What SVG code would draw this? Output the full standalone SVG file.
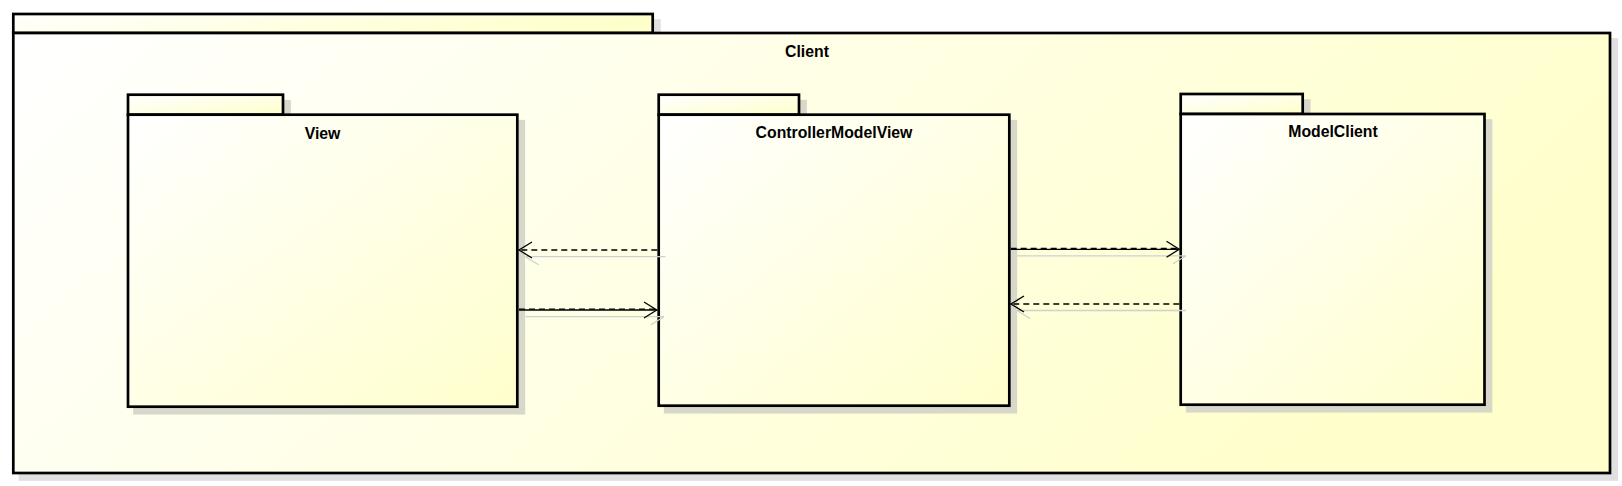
<svg xmlns="http://www.w3.org/2000/svg" width="1622" height="486" viewBox="0 0 1622 486">
  <defs>
    <linearGradient id="g" x1="0" y1="0" x2="1" y2="1">
      <stop offset="0" stop-color="#ffffff"/>
      <stop offset="1" stop-color="#ffffcc"/>
    </linearGradient>
    <linearGradient id="go" x1="0" y1="0" x2="1" y2="0.3">
      <stop offset="0" stop-color="#ffffff"/>
      <stop offset="1" stop-color="#ffffcc"/>
    </linearGradient>
    <style>
      .box { stroke: #000; stroke-width: 2.7; fill: url(#g); }
      .obox { stroke: #000; stroke-width: 2.7; fill: url(#go); }
      .sh { fill: #d8d8ca; stroke: #d8d8ca; stroke-width: 2.7; }
      .osh { fill: #e0e0e0; stroke: #e0e0e0; stroke-width: 2.7; }
      .lbl { font-family: "Liberation Sans", Arial, sans-serif; font-weight: bold; font-size: 15.8px; text-anchor: middle; fill: #000; }
      .ln { stroke: #000; stroke-width: 1.3; fill: none; }
      .dash { stroke-dasharray: 6 4; }
      .lsh { stroke: #cfcfcf; stroke-width: 1.3; fill: none; }
    </style>
  </defs>
  <rect width="1622" height="486" fill="#ffffff"/>

  <g id="Client">
    <rect class="osh" x="20" y="20.5" width="639.4" height="19"/>
    <rect class="osh" x="20" y="39.5" width="1596.7" height="440"/>
    <rect class="obox" x="13.3" y="14" width="639.4" height="19"/>
    <rect class="obox" x="13.3" y="33" width="1596.7" height="440"/>
    <text class="lbl" x="807" y="56.7">Client</text>
  </g>

  <g id="View">
    <rect class="sh" x="134.5" y="101.2" width="155" height="20"/>
    <rect class="sh" x="134.5" y="121.2" width="389.3" height="292"/>
    <rect class="box" x="128" y="94.7" width="155" height="20"/>
    <rect class="box" x="128" y="114.7" width="389.3" height="292"/>
    <text class="lbl" x="322.5" y="139.3">View</text>
  </g>

  <g id="ControllerModelView">
    <rect class="sh" x="665.2" y="101.2" width="140.3" height="20"/>
    <rect class="sh" x="665.2" y="121.2" width="350.6" height="291"/>
    <rect class="box" x="658.7" y="94.7" width="140.3" height="20"/>
    <rect class="box" x="658.7" y="114.7" width="350.6" height="291"/>
    <text class="lbl" x="834" y="138.3">ControllerModelView</text>
  </g>

  <g id="ModelClient">
    <rect class="sh" x="1187.2" y="100.5" width="122" height="20"/>
    <rect class="sh" x="1187.2" y="120.5" width="303.8" height="290.7"/>
    <rect class="box" x="1180.7" y="94" width="122" height="20"/>
    <rect class="box" x="1180.7" y="114" width="303.8" height="290.7"/>
    <text class="lbl" x="1333" y="137.3">ModelClient</text>
  </g>

  <g id="connectors">
    <!-- shadows -->
    <path class="lsh" d="M665.5,256.7 H525.5 M525.5,256.7 L538.5,264.7"/>
    <path class="lsh" d="M525.5,316.7 H664 M664,316.7 L651,324.7"/>
    <path class="lsh" d="M1017,255.8 H1186 M1186,255.8 L1173,263.8"/>
    <path class="lsh" d="M1186,310.5 H1017 M1017,310.5 L1030,318.5"/>
    <!-- ControllerModelView -> View (dashed) -->
    <path class="ln dash" d="M657.3,250 H520"/>
    <path class="ln" d="M532,242 L519,250 L532,258"/>
    <!-- View -> ControllerModelView -->
    <path class="ln" d="M519,310 H656.8"/>
    <path class="ln dash" d="M519,309.2 H655"/>
    <path class="ln" d="M644,302 L656.8,310 L644,318"/>
    <!-- ControllerModelView -> ModelClient -->
    <path class="ln" d="M1010.7,249.3 H1179.2"/>
    <path class="ln dash" d="M1010.7,248.5 H1177"/>
    <path class="ln" d="M1166.5,241.3 L1179.2,249.3 L1166.5,257.3"/>
    <!-- ModelClient -> ControllerModelView (dashed) -->
    <path class="ln dash" d="M1179.3,304 H1012"/>
    <path class="ln" d="M1024,296 L1010.9,304 L1024,312"/>
  </g>
</svg>
